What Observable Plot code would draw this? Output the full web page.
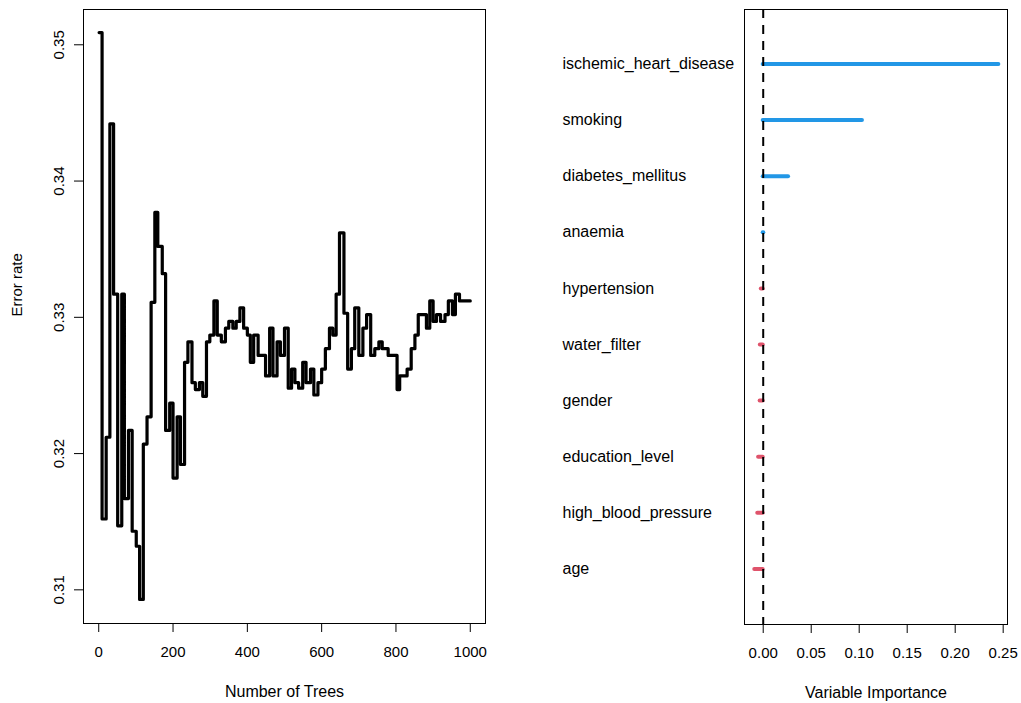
<!DOCTYPE html>
<html><head><meta charset="utf-8">
<script src="https://cdn.jsdelivr.net/npm/d3@7"></script>
<script src="https://cdn.jsdelivr.net/npm/@observablehq/plot@0.6"></script>
<style>
body{margin:0;background:#fff;}
#wrap{position:relative;width:1021px;height:703px;overflow:hidden;}
#left{position:absolute;left:0;top:0;}
#right{position:absolute;left:510px;top:0;}
</style></head><body><div id="wrap"><div id="left"></div><div id="right"></div></div>
<script>
// ---- Left panel: OOB error rate vs number of trees ----
const trees = [1, 9, 20, 30, 40, 51, 62, 69, 80, 90, 101, 110, 120, 130, 141, 151, 159, 171, 180, 191,
  200, 211, 220, 231, 240, 251, 260, 271, 280, 290, 299, 310, 319, 330, 341, 350, 361, 370, 380, 390,
  400, 408, 417, 429, 449, 460, 469, 480, 489, 500, 510, 519, 528, 538, 549, 558, 570, 579, 590, 600,
  610, 621, 630, 639, 648, 660, 670, 680, 689, 700, 711, 721, 732, 743, 754, 763, 779, 803, 810, 830,
  841, 851, 860, 882, 891, 900, 909, 920, 932, 941, 952, 960, 971, 1000];
const errorRate = [0.3509, 0.3152, 0.3212, 0.3442, 0.3317, 0.3147, 0.3317, 0.3167, 0.3217, 0.3143,
  0.3132, 0.3093, 0.3207, 0.3227, 0.3311, 0.3377, 0.3352, 0.3332, 0.3217, 0.3237,
  0.3182, 0.3227, 0.3192, 0.3267, 0.3282, 0.3252, 0.3247, 0.3252, 0.3242, 0.3282,
  0.3287, 0.3312, 0.3287, 0.3282, 0.3292, 0.3297, 0.3292, 0.3297, 0.3307, 0.3292,
  0.3287, 0.3267, 0.3287, 0.3272, 0.3257, 0.3292, 0.3257, 0.3282, 0.3272, 0.3292,
  0.3248, 0.3262, 0.3252, 0.3248, 0.3267, 0.3252, 0.3262, 0.3243, 0.3252, 0.3262,
  0.3277, 0.3292, 0.3287, 0.3317, 0.3362, 0.3303, 0.3262, 0.3277, 0.3307, 0.3272,
  0.3292, 0.3302, 0.3272, 0.3277, 0.3282, 0.3277, 0.3272, 0.3247, 0.3257, 0.3262,
  0.3277, 0.3287, 0.3302, 0.3292, 0.3312, 0.3297, 0.3302, 0.3297, 0.3302, 0.3312,
  0.3302, 0.3317, 0.3312, 0.3312];
const treeTicks = [0, 200, 400, 600, 800, 1000];
const errTicks = [0.31, 0.32, 0.33, 0.34, 0.35];

// ---- Right panel: variable importance (listed bottom to top) ----
const variables = ["age", "high_blood_pressure", "education_level", "gender", "water_filter",
  "hypertension", "anaemia", "diabetes_mellitus", "smoking", "ischemic_heart_disease"];
const importance = [-0.0088, -0.0057, -0.0048, -0.0032, -0.0030, -0.0020, 0.0006, 0.0264, 0.1034, 0.2455];
const impTicks = [0, 0.05, 0.10, 0.15, 0.20, 0.25];

const FONT = "'Liberation Sans', Arial, Helvetica, sans-serif";
const POS = "#2297E6", NEG = "#DF536B";

const errData = trees.map((t, i) => ({trees: t, err: errorRate[i]}));
const impData = variables.map((v, i) => ({rank: i + 1, name: v, value: importance[i]}));
const rowTicks = impData.map(d => d.rank);

const left = Plot.plot({
  width: 510, height: 703,
  marginLeft: 83, marginRight: 25, marginTop: 9, marginBottom: 80,
  style: {fontFamily: FONT, fontSize: "15px", color: "#000", background: "#fff"},
  x: {domain: [-41, 1041]},
  y: {domain: [0.30753, 0.35259]},
  marks: [
    Plot.line(errData, {x: "trees", y: "err", curve: "step-after", stroke: "#000", strokeWidth: 3.2}),
    Plot.frame({stroke: "#000", strokeWidth: 1}),
    Plot.axisX({ticks: treeTicks, tickFormat: d => String(d), tickSize: 9, tickPadding: 14, label: null, stroke: "#000"}),
    Plot.axisY({ticks: errTicks, tickFormat: d3.format(".2f"), tickSize: 9, tickPadding: 11, tickRotate: -90, label: null, stroke: "#000"}),
    Plot.text(["Number of Trees"], {text: d => d, frameAnchor: "bottom", dy: 68, lineAnchor: "middle", fill: "#000", fontSize: 16}),
    Plot.text(["Error rate"], {text: d => d, frameAnchor: "left", dx: -66, rotate: -90, lineAnchor: "middle", fill: "#000", fontSize: 15})
  ]
});
document.getElementById("left").appendChild(left);

const right = Plot.plot({
  width: 511, height: 703,
  marginLeft: 234, marginRight: 14, marginTop: 9, marginBottom: 79,
  style: {fontFamily: FONT, fontSize: "15px", color: "#000", background: "#fff"},
  x: {domain: [-0.0195, 0.2545]},
  y: {domain: [0.01, 10.97]},
  color: {type: "identity"},
  marks: [
    Plot.ruleY(impData, {y: "rank", x1: 0, x2: "value", stroke: d => d.value >= 0 ? POS : NEG, strokeWidth: 4, strokeLinecap: "round"}),
    Plot.ruleX([0], {stroke: "#000", strokeWidth: 2, strokeDasharray: "9,7"}),
    Plot.frame({stroke: "#000", strokeWidth: 1}),
    Plot.axisX({ticks: impTicks, tickFormat: d3.format(".2f"), tickSize: 9, tickPadding: 14, label: null, stroke: "#000"}),
    Plot.axisY({ticks: rowTicks, tickFormat: r => variables[r - 1], tickSize: 0, tickPadding: 0, textAnchor: "start", dx: -182, label: null, fontSize: 16}),
    Plot.text(["Variable Importance"], {text: d => d, frameAnchor: "bottom", dy: 68, lineAnchor: "middle", fill: "#000", fontSize: 16})
  ]
});
document.getElementById("right").appendChild(right);
</script>
</body></html>
